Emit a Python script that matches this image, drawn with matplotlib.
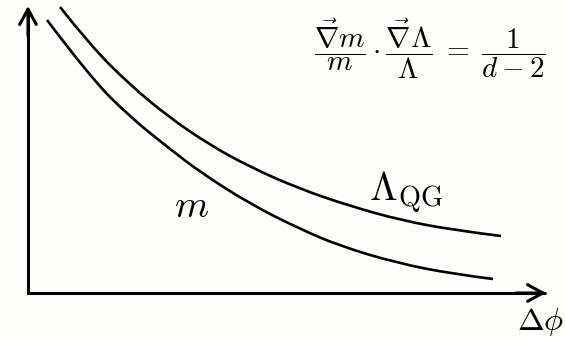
import matplotlib
matplotlib.use("Agg")
import matplotlib.pyplot as plt
from matplotlib.path import Path
from matplotlib.patches import PathPatch

plt.rcParams["mathtext.fontset"] = "cm"

# curves sampled in pixel space (x to the right, y downward)
lam_x = [60, 90, 130, 170, 210, 250, 300, 350, 400, 453, 501]
lam_y = [7, 45, 85, 118, 145, 167, 189, 206, 220, 230, 236]
m_x = [47, 90, 130, 170, 200, 250, 300, 340, 397, 453, 493]
m_y = [20, 77, 117, 149, 172, 204, 229, 246, 263, 274, 279]

origin = (28, 293)
x_tip = (546, 293)
y_tip = (28, 6)


def smooth_path(xs, ys):
    # quadratic bezier through the midpoints, sampled points act as controls
    pts = list(zip(xs, ys))
    verts = [pts[0]]
    codes = [Path.MOVETO]
    for i in range(1, len(pts) - 1):
        nxt = pts[i + 1] if i == len(pts) - 2 else (
            (pts[i][0] + pts[i + 1][0]) / 2, (pts[i][1] + pts[i + 1][1]) / 2)
        verts += [pts[i], nxt]
        codes += [Path.CURVE3, Path.CURVE3]
    return Path(verts, codes)


fig = plt.figure(figsize=(5.65, 3.37), dpi=100)
fig.patch.set_facecolor("#fdfdfb")
ax = fig.add_axes([0, 0, 1, 1])
ax.set_xlim(0, 565)
ax.set_ylim(337, 0)
ax.axis("off")

for xs, ys in [(lam_x, lam_y), (m_x, m_y)]:
    ax.add_patch(PathPatch(smooth_path(xs, ys), fill=False, edgecolor="black",
                           lw=1.9, capstyle="butt"))

# axes with open arrowheads
ax.plot([y_tip[0], origin[0], x_tip[0]], [y_tip[1] + 4, origin[1], x_tip[1]],
        color="black", lw=2.2, solid_joinstyle="miter", solid_capstyle="butt")
arrow = dict(arrowstyle="->,head_length=0.55,head_width=0.3", lw=2.2,
             color="black", shrinkA=0, shrinkB=0, mutation_scale=20)
ax.annotate("", xy=x_tip, xytext=(x_tip[0] - 30, x_tip[1]), arrowprops=arrow)
ax.annotate("", xy=y_tip, xytext=(y_tip[0], y_tip[1] + 30), arrowprops=arrow)

ax.text(192, 206, r"$m$", fontsize=28, ha="center", va="center")
ax.text(369, 201, r"$\Lambda_{\rm QG}$", fontsize=29, ha="left", va="baseline")
ax.text(517, 330, r"$\Delta\phi$", fontsize=23, ha="left", va="baseline")
ax.text(430, 49,
        r"$\dfrac{\vec{\nabla} m}{m}\cdot\dfrac{\vec{\nabla}\Lambda}{\Lambda}\;=\;\dfrac{1}{d-2}$",
        fontsize=21, ha="center", va="center")

fig.savefig("out.png", dpi=100, facecolor=fig.get_facecolor())
